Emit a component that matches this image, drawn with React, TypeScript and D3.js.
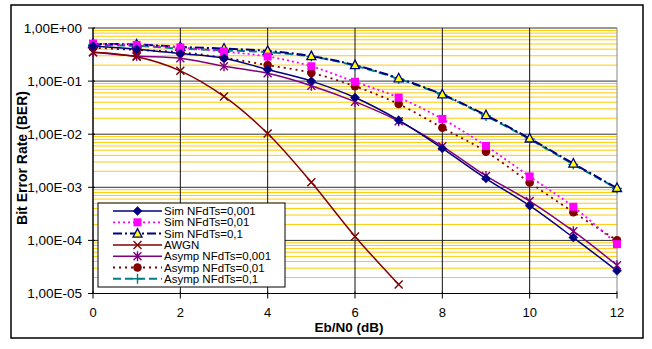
import React from "react";
import * as d3 from "d3";

const xValues = [0, 1, 2, 3, 4, 5, 6, 7, 8, 9, 10, 11, 12];
const awgnX = [0, 1, 2, 3, 4, 5, 6, 7];

const simN001 = [0.46, 0.4, 0.33, 0.27, 0.165, 0.1, 0.049, 0.0184, 0.0054, 0.00146, 0.00045, 0.000113, 0.0000267];
const simN01 = [0.51, 0.48, 0.43, 0.36, 0.29, 0.19, 0.097, 0.049, 0.0194, 0.006, 0.0016, 0.00043, 0.000085];
const simN1 = [0.5, 0.49, 0.44, 0.41, 0.37, 0.296, 0.2, 0.113, 0.056, 0.0228, 0.0083, 0.0028, 0.00097];
const awgn = [0.35, 0.287, 0.156, 0.0514, 0.0103, 0.00124, 0.000119, 0.0000148];
const asN001 = [0.35, 0.296, 0.268, 0.19, 0.14, 0.082, 0.041, 0.0176, 0.0059, 0.00164, 0.00055, 0.000149, 0.000034];
const asN01 = [0.425, 0.385, 0.35, 0.275, 0.2, 0.143, 0.08, 0.037, 0.0132, 0.0047, 0.00123, 0.00034, 0.0001];
const asN1 = [0.48, 0.46, 0.41, 0.38, 0.35, 0.29, 0.195, 0.11, 0.055, 0.022, 0.0081, 0.0027, 0.00095];

const seriesNames = [
  "Sim NFdTs=0,001",
  "Sim NFdTs=0,01",
  "Sim NFdTs=0,1",
  "AWGN",
  "Asymp NFdTs=0,001",
  "Asymp NFdTs=0,01",
  "Asymp NFdTs=0,1",
];

const yTickLabels = ["1,00E+00", "1,00E-01", "1,00E-02", "1,00E-03", "1,00E-04", "1,00E-05"];
const yTickValues = [1, 1e-1, 1e-2, 1e-3, 1e-4, 1e-5];
const xTickValues = [0, 2, 4, 6, 8, 10, 12];

type Style = { color: string; dash: string; width: number; marker: string };

const styles: Style[] = [
  { color: "#000080", dash: "", width: 1.5, marker: "diamond" },
  { color: "#FF00FF", dash: "2,3", width: 1.8, marker: "square" },
  { color: "#000080", dash: "9,3,2,3", width: 2, marker: "triangle" },
  { color: "#800000", dash: "", width: 1.5, marker: "x" },
  { color: "#800080", dash: "", width: 1.5, marker: "star" },
  { color: "#800000", dash: "2,4", width: 1.8, marker: "circle" },
  { color: "#008080", dash: "8,4", width: 2, marker: "plus" },
];

const W = 652;
const H = 349;
const L = 93;
const R = 617;
const T = 28;
const B = 293.5;

function Marker({ type, x, y, color }: { type: string; x: number; y: number; color: string }) {
  switch (type) {
    case "diamond":
      return <path d={`M${x},${y - 4.5}L${x + 4.5},${y}L${x},${y + 4.5}L${x - 4.5},${y}Z`} fill={color} stroke={color} strokeWidth={0.5} />;
    case "square":
      return <rect x={x - 4} y={y - 4} width={8} height={8} fill={color} />;
    case "triangle":
      return <path d={`M${x},${y - 5}L${x + 4.5},${y + 3.5}L${x - 4.5},${y + 3.5}Z`} fill="#FFFF00" stroke={color} strokeWidth={1.3} />;
    case "x":
      return <path d={`M${x - 4},${y - 4}L${x + 4},${y + 4}M${x - 4},${y + 4}L${x + 4},${y - 4}`} stroke={color} strokeWidth={1.4} fill="none" />;
    case "star":
      return <path d={`M${x - 4},${y - 4}L${x + 4},${y + 4}M${x - 4},${y + 4}L${x + 4},${y - 4}M${x},${y - 5}L${x},${y + 5}`} stroke={color} strokeWidth={1.4} fill="none" />;
    case "circle":
      return <circle cx={x} cy={y} r={4.3} fill={color} />;
    case "plus":
      return <path d={`M${x - 5},${y}L${x + 5},${y}M${x},${y - 5}L${x},${y + 5}`} stroke={color} strokeWidth={1.4} fill="none" />;
  }
  return null;
}

export default function App() {
  const x = d3.scaleLinear().domain([0, 12]).range([L, R]);
  const y = d3.scaleLog().domain([1e-5, 1]).range([B, T]);

  const allSeries: { xs: number[]; ys: number[] }[] = [
    { xs: xValues, ys: simN001 },
    { xs: xValues, ys: simN01 },
    { xs: xValues, ys: simN1 },
    { xs: awgnX, ys: awgn },
    { xs: xValues, ys: asN001 },
    { xs: xValues, ys: asN01 },
    { xs: xValues, ys: asN1 },
  ];

  const line = d3
    .line<[number, number]>()
    .x((d) => x(d[0]))
    .y((d) => y(d[1]))
    .curve(d3.curveCatmullRom.alpha(0.5));

  const minor: number[] = [];
  for (let k = -5; k < 0; k++) {
    for (let m = 2; m <= 9; m++) minor.push(m * Math.pow(10, k));
  }

  const font = "Arial, 'Liberation Sans', sans-serif";
  const drawOrder = [6, 5, 4, 3, 2, 1, 0];
  const legendY0 = 211;
  const legendStep = 11.3;

  return (
    <svg width={W} height={H} style={{ position: "absolute", left: 0, top: 0, background: "#fff" }} fontFamily={font}>
      <rect x={0} y={0} width={W} height={H} fill="#fff" />
      <rect x={11} y={5} width={632} height={333} fill="#fff" stroke="#000" strokeWidth={1.5} />
      {minor.map((v, i) => (
        <line key={"mn" + i} x1={L} x2={R} y1={y(v)} y2={y(v)} stroke="#FFCC00" strokeWidth={1} />
      ))}
      {yTickValues.map((v, i) => (
        <line key={"mj" + i} x1={L} x2={R} y1={y(v)} y2={y(v)} stroke="#333" strokeWidth={1} />
      ))}
      {xTickValues.map((v, i) => (
        <line key={"vg" + i} x1={x(v)} x2={x(v)} y1={T} y2={B} stroke={v === 12 ? "#888" : "#111"} strokeWidth={1} />
      ))}
      <line x1={L} x2={L} y1={T} y2={B} stroke="#000" strokeWidth={1} />
      <line x1={L} x2={R} y1={B} y2={B} stroke="#000" strokeWidth={1} />
      {yTickValues.map((v, i) => (
        <g key={"yt" + i}>
          <line x1={L - 5} x2={L + 2} y1={y(v)} y2={y(v)} stroke="#000" />
          <text x={82} y={y(v)} dy="0.35em" textAnchor="end" fontSize={13.5}>
            {yTickLabels[i]}
          </text>
        </g>
      ))}
      {xTickValues.map((v, i) => (
        <g key={"xt" + i}>
          <line x1={x(v)} x2={x(v)} y1={B - 2} y2={B + 5} stroke="#000" />
          <text x={x(v)} y={317} textAnchor="middle" fontSize={13}>
            {v}
          </text>
        </g>
      ))}
      {drawOrder.map((si) => {
        const s = allSeries[si];
        const st = styles[si];
        const pts = s.xs.map((xv, j) => [xv, s.ys[j]] as [number, number]);
        return (
          <path key={"ln" + si} d={line(pts) || ""} fill="none" stroke={st.color} strokeWidth={st.width} strokeDasharray={st.dash || undefined} />
        );
      })}
      {drawOrder.map((si) => {
        const s = allSeries[si];
        const st = styles[si];
        return (
          <g key={"mk" + si}>
            {s.xs.map((xv, j) => (
              <Marker key={j} type={st.marker} x={x(xv)} y={y(s.ys[j])} color={st.color} />
            ))}
          </g>
        );
      })}
      <text x={349} y={332} textAnchor="middle" fontSize={13.5} fontWeight="bold">
        Eb/N0 (dB)
      </text>
      <text transform={`translate(27,158) rotate(-90)`} textAnchor="middle" fontSize={14} fontWeight="bold">
        Bit Error Rate (BER)
      </text>
      <rect x={98} y={203} width={187} height={84} fill="#fff" stroke="#000" strokeWidth={1} />
      {seriesNames.map((name, i) => {
        const st = styles[i];
        const ly = legendY0 + i * legendStep;
        return (
          <g key={"lg" + i}>
            <line x1={113} x2={162} y1={ly} y2={ly} stroke={st.color} strokeWidth={st.width} strokeDasharray={st.dash || undefined} />
            <Marker type={st.marker} x={137.5} y={ly} color={st.color} />
            <text x={164} y={ly} dy="0.36em" fontSize={11.5}>
              {name}
            </text>
          </g>
        );
      })}
    </svg>
  );
}
